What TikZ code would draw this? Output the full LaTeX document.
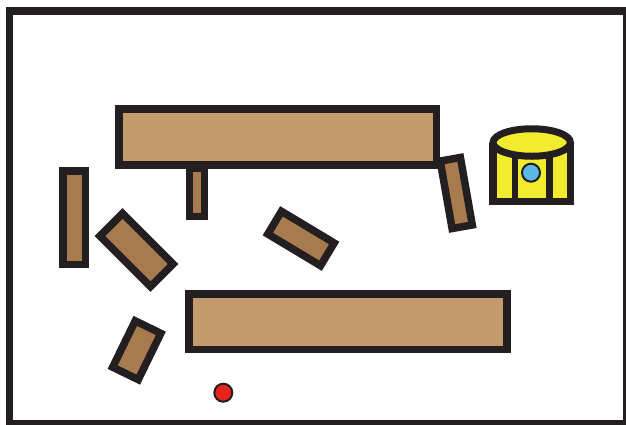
\documentclass[tikz,border=0pt]{standalone}
\definecolor{ink}{HTML}{231F20}
\definecolor{tan}{HTML}{C29A6C}
\definecolor{wood}{HTML}{A87B4F}
\definecolor{ylw}{HTML}{F2EC2E}
\definecolor{sky}{HTML}{5DB8E6}
\definecolor{redd}{HTML}{E8221E}
\tikzset{
  plank/.style={rectangle, draw=ink, line width=7.5pt, inner sep=0pt, outer sep=0pt},
  bigplank/.style={plank, fill=tan},
  smallplank/.style={plank, fill=wood},
  dot/.style={circle, draw=ink, line width=2pt, inner sep=0pt, minimum size=18pt}
}
\begin{document}
\begin{tikzpicture}[x=1pt,y=-1pt]
\useasboundingbox (0,0) rectangle (626,424);
\fill[white] (0,0) rectangle (626,424);
% frame
\draw[ink, line width=7.5pt] (9.7,11.2) rectangle (626.5,424.2);
% big planks
\node[bigplank, minimum width=317.5pt, minimum height=56pt] (top) at (277.5,136.75) {};
\node[smallplank, minimum width=14.75pt, minimum height=48pt] (stub) at (197.1,192.5) {};
\node[bigplank, minimum width=318.2pt, minimum height=55.8pt] (bottom) at (347.85,321.65) {};
% small planks
\node[smallplank, minimum width=22.5pt, minimum height=93.5pt] (leftbar) at (74,217.5) {};
\node[smallplank, minimum width=71.5pt, minimum height=32pt, rotate=-45] (leftdiag) at (136.5,250) {};
\node[smallplank, minimum width=61.5pt, minimum height=26.5pt, rotate=-31] (middiag) at (301,238.5) {};
\node[smallplank, minimum width=20.5pt, minimum height=68.5pt, rotate=10] (righttilt) at (456.25,193) {};
\node[smallplank, minimum width=28.5pt, minimum height=51.5pt, rotate=-26] (lowdiag) at (136.75,350.25) {};
% cylinder
\fill[ylw] (492.75,142.5) rectangle (570.25,201.25);
\draw[ink, line width=7.5pt] (492.75,142.5) -- (492.75,201.25) -- (570.25,201.25) -- (570.25,142.5);
\draw[ink, line width=6.7pt] (515,150) -- (515,201);
\draw[ink, line width=6.7pt] (549.3,150) -- (549.3,201);
\draw[ink, fill=ylw, line width=7pt] (531.7,142.5) ellipse [x radius=38.7pt, y radius=13.75pt];
\node[dot, fill=sky] (blue) at (531,172.7) {};
% red dot
\node[dot, fill=redd] (red) at (223.3,392.7) {};
\end{tikzpicture}
\end{document}
